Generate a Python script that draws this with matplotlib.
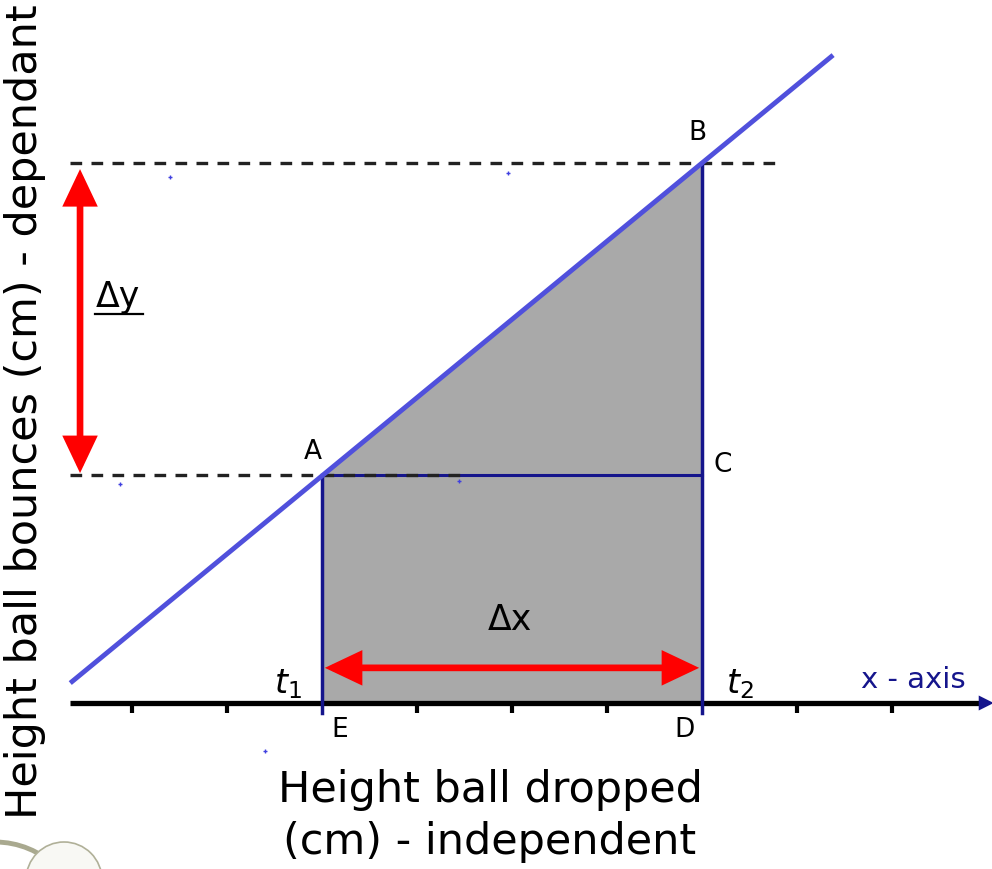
import matplotlib
matplotlib.use("Agg")
import matplotlib.pyplot as plt
from matplotlib.patches import Polygon, Circle, FancyArrowPatch

# geometry of the diagram (data units, 1 unit = one tick spacing)
tick_x = [0, 1, 2, 3, 4, 5, 6, 7, 8]
line_x = [-0.65, 7.38]
line_y = [0.21, 6.82]
point_a = (2.0, 2.40)
point_b = (6.0, 5.68)
axis_x = [-0.65, 8.98]
noise_x = [0.40, 3.96, -0.126, 3.44, 1.40]
noise_y = [5.54, 5.58, 2.305, 2.34, -0.505]

NAVY = "#15158c"
LINE_BLUE = "#5050dc"
GREY = "#a9a9a9"

fig = plt.figure(figsize=(9.92, 8.69), dpi=100)
ax = fig.add_axes([0, 0, 1, 1])
ax.set_xlim(-132 / 95, (992 - 132) / 95)
ax.set_ylim((703 - 869) / 95, 703 / 95)
ax.axis("off")

ax_, ay = point_a
bx, by = point_b

# shaded area under the line between t1 and t2
ax.add_patch(Polygon([(ax_, 0), (ax_, ay), (bx, by), (bx, 0)],
                     closed=True, facecolor=GREY, edgecolor="none", zorder=1))

# dashed guides
ax.plot([line_x[0], 6.77], [by, by], ls=(0, (3.5, 2.8)), color="#222222", lw=2.4, zorder=3)
ax.plot([line_x[0], 3.45], [ay, ay], ls=(0, (3.5, 2.8)), color="#222222", lw=2.4, zorder=3)

# navy box lines
ax.plot([ax_, bx], [ay, ay], color=NAVY, lw=2.2, zorder=2)
ax.plot([ax_, ax_], [-0.1, ay], color=NAVY, lw=2.5, zorder=4)
ax.plot([bx, bx], [-0.1, by], color=NAVY, lw=2.5, zorder=4)

# the straight-line graph
ax.plot(line_x, line_y, color=LINE_BLUE, lw=3.5, zorder=5, solid_capstyle="butt")

# x axis with ticks and arrow head
ax.plot(axis_x, [0, 0], color="black", lw=3.8, zorder=3, solid_capstyle="butt")
for t in tick_x:
    if t in (2, 6):
        continue
    ax.plot([t, t], [0, -0.1], color="black", lw=3, zorder=3, solid_capstyle="butt")
ax.add_patch(FancyArrowPatch((axis_x[1] - 0.05, 0), (axis_x[1] + 0.12, 0),
                             arrowstyle="-|>,head_length=0.9,head_width=0.45",
                             mutation_scale=12, color=NAVY, lw=0, zorder=4))

# stray dots
ax.scatter(noise_x, noise_y, marker="+", s=12, color="#4040e0", lw=1, zorder=3)

# red delta arrows
red = dict(arrowstyle="<|-|>,head_length=0.95,head_width=0.45",
           mutation_scale=20, color="#ff0000", lw=4.8, joinstyle="miter",
           capstyle="butt", shrinkA=0, shrinkB=0, zorder=6)
ax.add_patch(FancyArrowPatch((-0.547, by - 0.06), (-0.547, ay + 0.02), **red))
ax.add_patch(FancyArrowPatch((ax_ + 0.03, 0.37), (bx - 0.03, 0.37), **red))

# point labels
lab = dict(fontsize=19, ha="center", va="center", color="black", zorder=7)
ax.text(1.905, 2.64, "A", **lab)
ax.text(5.95, 6.0, "B", **lab)
ax.text(6.22, 2.505, "C", **lab)
ax.text(2.19, -0.284, "E", **lab)
ax.text(5.82, -0.284, "D", **lab)
ax.text(1.64, 0.2, r"$t_1$", fontsize=24, ha="center", va="center")
ax.text(6.40, 0.2, r"$t_2$", fontsize=24, ha="center", va="center")
ax.text(8.22, 0.24, "x - axis", fontsize=21, ha="center", va="center", color=NAVY)
ax.text(3.98, 0.87, "Δx", fontsize=25, ha="center", va="center")
ax.text(-0.147, 4.27, "Δy", fontsize=25, ha="center", va="center")
ax.plot([-0.389, 0.116], [4.095, 4.095], color="black", lw=1.6)

# axis titles
fig.text(25 / 992, 1 - 412 / 869, "Height ball bounces (cm) - dependant",
         rotation=90, fontsize=31, ha="center", va="center")
fig.text(490 / 992, 1 - 790 / 869, "Height ball dropped", fontsize=31,
         ha="center", va="center")
fig.text(490 / 992, 1 - 842 / 869, "(cm) - independent", fontsize=31,
         ha="center", va="center")

# decorative corner ornament
ax.add_patch(Circle(((-5 - 132) / 95, (703 - 930) / 95), 88 / 95, facecolor="none",
                    edgecolor="#a9a98f", lw=3.5, zorder=2))
ax.add_patch(Circle(((64 - 132) / 95, (703 - 880) / 95), 38 / 95, facecolor="#f8f8f4",
                    edgecolor="#b0b098", lw=1.2, zorder=3))

fig.savefig("out.png", dpi=100)
